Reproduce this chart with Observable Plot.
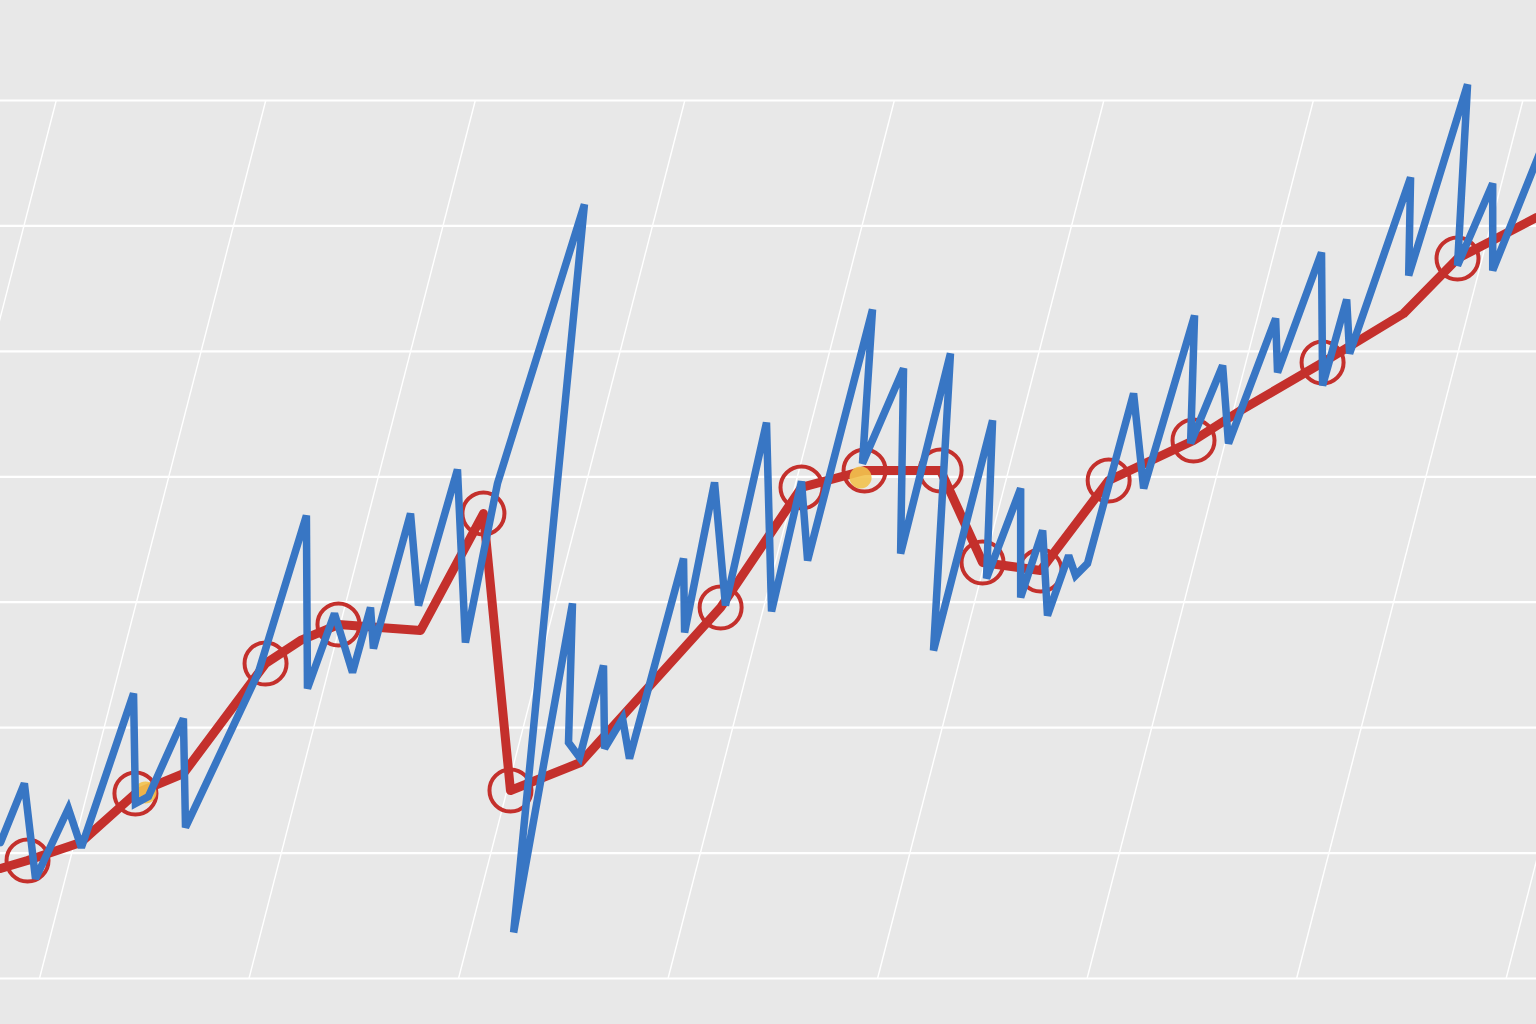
<!DOCTYPE html>
<html>
<head>
<meta charset="utf-8">
<script src="https://cdn.jsdelivr.net/npm/d3@7"></script>
<script src="https://cdn.jsdelivr.net/npm/@observablehq/plot@0.6"></script>
<style>
  html, body { margin: 0; padding: 0; background: #e8e8e8; overflow: hidden; }
  #chart svg { display: block; }
</style>
</head>
<body>
<div id="chart"></div>
<script>
// ---- Data ----
// Horizontal grid values and slanted vertical grid values
const yTicks = [0, 10, 20, 30, 40, 50, 60, 70];
const xTicks = [-10, 0, 10, 20, 30, 40, 50, 60, 70];
const gridSkew = 10.8; // slanted gridline: x at bottom -> x + skew at top

// Blue (volatile) series
const blueX = [-1.86, -0.72, -0.19, 1.38, 2.00, 4.49, 4.58, 5.20, 6.87, 6.97,
  10.45, 12.74, 12.79, 14.08, 14.94, 15.80, 15.94, 17.71, 18.09, 19.95,
  20.33, 21.86, 26.01, 22.63, 25.44, 25.25, 25.78, 26.92, 26.97, 27.83,
  28.16, 30.74, 30.79, 32.22, 32.74, 34.70, 34.94, 36.37, 36.66, 39.76,
  39.28, 41.24, 41.10, 43.48, 42.67, 45.49, 45.20, 46.83, 46.83, 47.88,
  48.11, 49.12, 49.45, 50.02, 52.22, 52.70, 55.13, 54.94, 56.47, 56.75,
  59.00, 59.09, 61.19, 61.24, 62.39, 62.53, 65.44, 65.35, 68.16, 67.68,
  69.36, 69.36, 71.65];
const blueY = [10.84, 15.55, 7.97, 13.55, 10.44, 22.72, 13.95, 14.51, 20.73, 12.04,
  24.40, 36.91, 23.12, 29.10, 24.40, 29.58, 26.31, 37.07, 29.74, 40.58,
  26.79, 39.47, 61.71, 3.67, 29.90, 18.82, 17.62, 24.96, 18.34, 20.73,
  17.54, 33.49, 27.59, 39.55, 29.74, 44.33, 29.26, 39.63, 33.33, 53.34,
  41.06, 48.64, 33.88, 49.83, 26.15, 44.49, 31.89, 39.07, 30.38, 35.72,
  28.94, 33.73, 32.13, 33.09, 46.64, 39.07, 52.86, 42.66, 48.87, 42.66,
  52.62, 48.32, 57.88, 47.28, 54.14, 49.83, 63.86, 56.05, 71.28, 56.85,
  63.38, 56.45, 66.01];

// Red (trend) series, with flags for points drawn with a circle marker
const redX = [-1.86, -0.57, 1.96, 4.58, 6.87, 10.79, 12.46, 14.27, 18.19, 21.19,
  22.48, 25.82, 32.51, 36.37, 39.38, 43.01, 45.01, 47.78, 51.03, 55.08,
  57.33, 61.24, 65.11, 67.68, 71.45];
const redY = [8.77, 9.41, 10.84, 14.75, 16.34, 25.11, 26.95, 28.22, 27.75, 37.07,
  14.99, 17.22, 29.58, 39.15, 40.50, 40.50, 33.17, 32.53, 39.70, 42.89,
  45.29, 49.11, 53.02, 57.40, 60.67];
const redMarked = [false, true, false, true, false, true, false, true, false, true,
  true, false, true, true, true, true, true, true, true, true,
  false, true, false, true, false];

// Small highlighted (glowing) points
const glowX = [5.06, 39.19];
const glowY = [14.83, 39.94];

// ---- Build tables ----
const blue = blueX.map((x, i) => ({x, y: blueY[i]}));
const red = redX.map((x, i) => ({x, y: redY[i], marked: redMarked[i]}));
const glow = glowX.map((x, i) => ({x, y: glowY[i]}));

const RED = "#c4302c";
const BLUE = "#3876c4";
const BG = "#e8e8e8";

const chart = Plot.plot({
  width: 1536,
  height: 1024,
  marginLeft: 0,
  marginRight: 0,
  marginTop: 100,
  marginBottom: 46,
  x: {domain: [-1.86, 71.45], axis: null},
  y: {domain: [0, 70], axis: null},
  style: {background: BG},
  marks: [
    Plot.ruleY(yTicks, {stroke: "white", strokeWidth: 2.2}),
    Plot.link(xTicks, {
      x1: d => d, y1: yTicks[0],
      x2: d => d + gridSkew, y2: yTicks[yTicks.length - 1],
      stroke: "white", strokeWidth: 1.4
    }),
    Plot.line(red, {x: "x", y: "y", stroke: RED, strokeWidth: 9, strokeLinejoin: "round"}),
    Plot.dot(red.filter(d => d.marked), {x: "x", y: "y", r: 21, stroke: RED, strokeWidth: 4, fill: "none"}),
    Plot.dot(glow, {x: "x", y: "y", r: 11, fill: "#f2c24e", fillOpacity: 0.9}),
    Plot.line(blue, {x: "x", y: "y", stroke: BLUE, strokeWidth: 7.5, strokeLinejoin: "miter", strokeMiterlimit: 3})
  ]
});

document.getElementById("chart").appendChild(chart);
</script>
</body>
</html>
